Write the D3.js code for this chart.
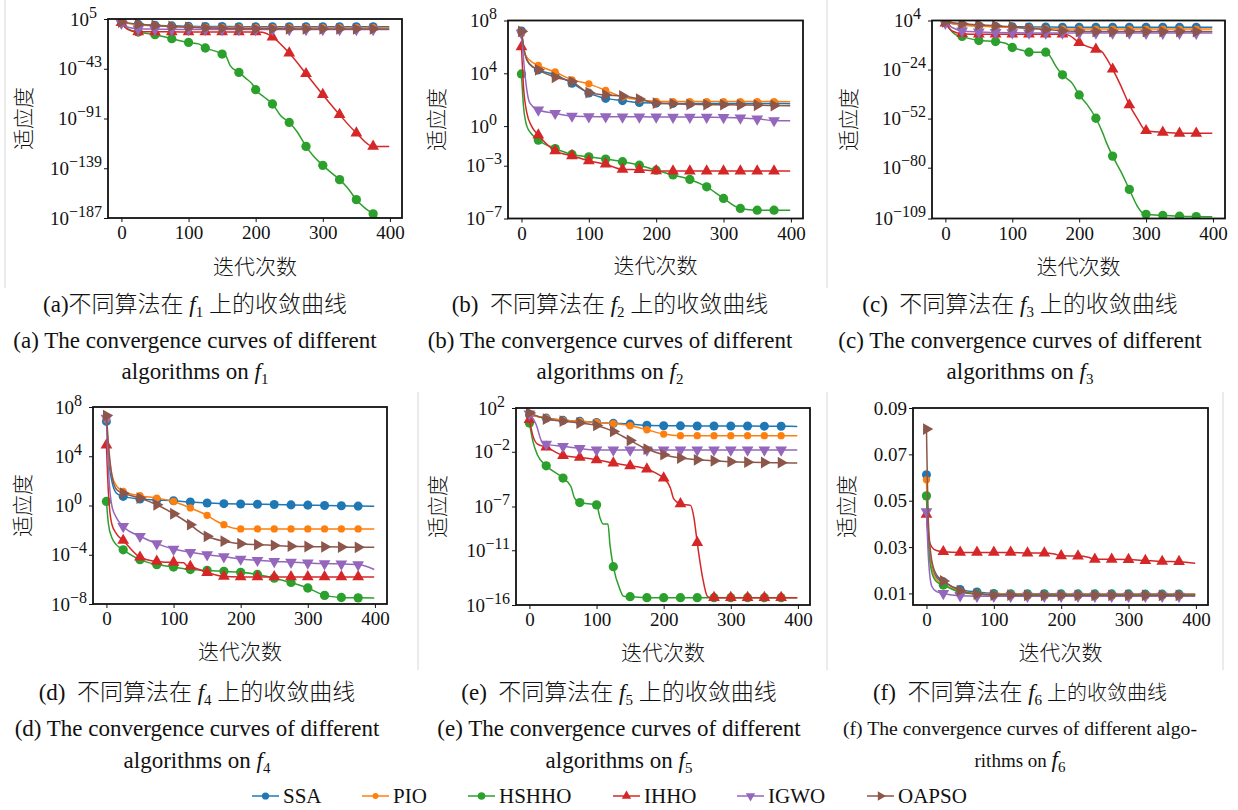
<!DOCTYPE html>
<html>
<head>
<meta charset="utf-8">
<script src="https://cdn.jsdelivr.net/npm/d3@7"></script>
<style>
  body { margin: 0; background: #fff; }
  svg text { font-family: 'Liberation Serif', 'Noto Sans CJK SC', serif; fill: #111; white-space: pre; }
  svg text.zh { font-weight: 300; }
</style>
</head>
<body>
<script>
// algorithms, in drawing order
const algorithms = ['SSA', 'PIO', 'HSHHO', 'IHHO', 'IGWO', 'OAPSO'];
const xTicks = [0, 100, 200, 300, 400];

// f1..f5: [iteration, log10(fitness)]
const f1SSA   = [[0,1.5],[25,0],[50,-1],[75,-1.6],[100,-2],[125,-2.2],[150,-2.3],[175,-2.4],[200,-2.4],[225,-2.4],[250,-2.45],[275,-2.45],[300,-2.45],[325,-2.5],[350,-2.5],[375,-2.5],[399,-2.5]];
const f1PIO   = [[0,1.5],[25,-0.5],[50,-1.5],[75,-2.2],[100,-2.7],[125,-3],[150,-3.2],[175,-3.3],[200,-3.4],[225,-3.4],[250,-3.4],[275,-3.4],[300,-3.4],[325,-3.4],[350,-3.4],[375,-3.4],[399,-3.4]];
const f1HSHHO = [[0,3],[5,-2],[15,-6],[25,-7.6],[50,-10.1],[75,-14],[100,-17.6],[115,-19],[125,-23],[140,-26],[150,-28.8],[155,-30],[162,-40],[175,-46.5],[185,-52],[195,-58],[200,-63.2],[212,-70],[225,-77],[237,-88],[250,-94.8],[262,-104],[275,-117.9],[287,-128],[300,-136.2],[312,-143],[325,-150],[337,-158],[350,-169.3],[362,-177],[375,-183],[399,-200]];
const f1IHHO  = [[0,1.5],[5,-3],[15,-6.5],[25,-7.3],[50,-7.4],[75,-7.4],[100,-7.5],[125,-7.5],[150,-7.5],[175,-7.5],[200,-7.5],[210,-7.8],[225,-12.4],[250,-27.8],[275,-47.8],[300,-68],[325,-87.3],[350,-105],[375,-117.9],[399,-118]];
const f1IGWO  = [[0,1],[10,-3],[25,-4.5],[50,-4.8],[75,-5],[100,-5.1],[125,-5.1],[150,-5.2],[175,-5.2],[200,-5.2],[225,-5.2],[250,-5.2],[275,-5.2],[300,-5.2],[325,-5.2],[350,-5.2],[375,-5.2],[399,-5.2]];
const f1OAPSO = [[0,2],[25,0],[50,-1.2],[75,-2.2],[100,-3],[125,-3.6],[150,-4],[175,-4.3],[200,-4.5],[225,-4.5],[250,-4.5],[275,-4.55],[300,-4.55],[325,-4.6],[350,-4.6],[375,-4.6],[399,-4.6]];

const f2SSA   = [[0,7.2],[5,5.5],[12,4.7],[25,4.26],[50,3.9],[75,3.25],[100,2.5],[125,2.1],[150,1.93],[175,1.78],[200,1.74],[225,1.72],[250,1.72],[275,1.72],[300,1.72],[325,1.72],[350,1.72],[375,1.71],[399,1.7]];
const f2PIO   = [[0,7.0],[5,5.5],[12,5],[25,4.6],[50,4.1],[75,3.5],[100,3.2],[125,2.7],[150,2.2],[175,2.0],[200,1.88],[225,1.86],[250,1.86],[275,1.86],[300,1.86],[325,1.86],[350,1.86],[375,1.86],[399,1.85]];
const f2HSHHO = [[0,3.95],[3,1.5],[8,0],[15,-0.6],[25,-1.06],[50,-1.7],[75,-2.15],[100,-2.33],[125,-2.5],[150,-2.7],[175,-2.96],[200,-3.34],[225,-3.7],[250,-4.04],[275,-4.6],[300,-5.48],[325,-6.24],[350,-6.37],[375,-6.37],[399,-6.38]];
const f2IHHO  = [[0,6.0],[3,3],[8,1],[15,0],[25,-0.68],[50,-1.87],[75,-2.25],[100,-2.63],[125,-2.88],[150,-3.28],[175,-3.3],[200,-3.39],[225,-3.4],[250,-3.4],[275,-3.4],[300,-3.4],[325,-3.4],[350,-3.4],[375,-3.4],[399,-3.4]];
const f2IGWO  = [[0,7.04],[5,4],[12,1.8],[25,1.22],[50,0.97],[75,0.76],[100,0.72],[125,0.71],[150,0.7],[175,0.7],[200,0.69],[225,0.68],[250,0.68],[275,0.67],[300,0.65],[325,0.62],[350,0.55],[375,0.42],[399,0.4]];
const f2OAPSO = [[0,7.17],[5,5.5],[12,4.7],[25,4.26],[50,3.7],[75,3.37],[100,2.53],[125,2.36],[150,2.28],[175,2.05],[200,1.74],[225,1.7],[250,1.65],[275,1.63],[300,1.62],[325,1.6],[350,1.58],[375,1.56],[399,1.55]];

const f3SSA   = [[0,2.9],[25,1.5],[50,1],[75,0.6],[100,0.4],[125,0.35],[150,0.3],[175,0.2],[200,0.2],[225,0.2],[250,0.2],[275,0.2],[300,0.2],[325,0.2],[350,0.2],[375,0.2],[399,0.2]];
const f3PIO   = [[0,3],[25,1.5],[50,0.8],[75,0.3],[100,0],[125,-0.3],[150,-0.6],[175,-0.8],[200,-0.9],[225,-0.9],[250,-0.9],[275,-0.9],[300,-0.9],[325,-0.9],[350,-0.9],[375,-0.9],[399,-0.9]];
const f3HSHHO = [[0,3],[5,0],[15,-4],[25,-5.1],[50,-7.4],[75,-8],[90,-9],[100,-11.4],[115,-13],[125,-14.1],[150,-14.1],[155,-15.5],[165,-22],[175,-27],[190,-32],[200,-38.5],[212,-44],[225,-51.8],[235,-60],[240,-65],[250,-73.4],[262,-82],[275,-92.4],[287,-102],[295,-106],[300,-106.6],[325,-107.3],[350,-107.7],[375,-107.9],[399,-108]];
const f3IHHO  = [[0,2.5],[10,-2],[25,-3.5],[50,-3.8],[75,-3.8],[100,-3.8],[125,-3.8],[150,-3.8],[175,-3.8],[185,-4.5],[200,-8.6],[210,-10.5],[225,-12.4],[233,-13.5],[240,-17],[250,-23.8],[262,-33],[275,-44.2],[287,-52],[300,-58.9],[325,-59.8],[350,-60.4],[375,-60.4],[399,-60.4]];
const f3IGWO  = [[0,2.5],[10,0],[25,-2],[50,-2.5],[75,-2.8],[100,-3],[125,-3.1],[150,-3.1],[175,-3.1],[200,-3.1],[225,-3.15],[250,-3.15],[275,-3.15],[300,-3.2],[325,-3.2],[350,-3.2],[375,-3.2],[399,-3.2]];
const f3OAPSO = [[0,3.2],[25,2.2],[50,1.5],[75,1],[100,0.3],[125,-0.5],[150,-1.2],[175,-1.8],[200,-2.2],[225,-2.3],[250,-2.3],[275,-2.3],[300,-2.3],[325,-2.3],[350,-2.3],[375,-2.3],[399,-2.3]];

const f4SSA   = [[0,6.83],[3,4],[8,2],[15,1],[25,0.74],[50,0.53],[75,0.45],[100,0.39],[125,0.28],[150,0.2],[175,0.15],[200,0.12],[225,0.1],[250,0.08],[275,0.05],[300,0.03],[325,0],[350,-0.02],[375,-0.05],[399,-0.07]];
const f4PIO   = [[0,7],[3,4.5],[8,2.5],[15,1.6],[25,1.14],[50,0.79],[75,0.6],[100,0.33],[125,-0.2],[150,-0.8],[165,-1.3],[175,-1.56],[190,-1.85],[200,-1.9],[225,-1.9],[250,-1.9],[275,-1.9],[300,-1.9],[325,-1.9],[350,-1.9],[375,-1.9],[399,-1.9]];
const f4HSHHO = [[0,0.33],[3,-1.5],[8,-2.6],[15,-3.2],[25,-3.6],[50,-4.4],[75,-4.8],[100,-5],[125,-5.2],[150,-5.27],[175,-5.35],[200,-5.43],[225,-5.6],[250,-5.9],[275,-6.25],[300,-6.7],[325,-7.3],[350,-7.47],[375,-7.5],[399,-7.52]];
const f4IHHO  = [[0,4.9],[3,1],[8,-1.5],[15,-2.3],[25,-2.84],[50,-4.2],[75,-4.54],[100,-4.62],[115,-4.65],[120,-4.9],[125,-4.95],[150,-5.44],[175,-5.76],[200,-5.8],[225,-5.8],[250,-5.8],[275,-5.8],[300,-5.8],[325,-5.8],[350,-5.8],[375,-5.8],[399,-5.8]];
const f4IGWO  = [[0,7.1],[3,3],[8,0],[15,-1],[25,-1.7],[50,-2.5],[75,-3.1],[100,-3.54],[125,-3.8],[150,-4],[175,-4.15],[200,-4.35],[225,-4.45],[250,-4.54],[275,-4.6],[300,-4.67],[325,-4.72],[350,-4.74],[375,-4.8],[390,-5],[399,-5.2]];
const f4OAPSO = [[0,7.3],[3,5],[8,2.5],[15,1.3],[25,1],[50,0.6],[75,0.06],[100,-0.67],[125,-1.56],[135,-2],[150,-2.5],[175,-2.9],[200,-3.1],[225,-3.18],[250,-3.24],[275,-3.3],[300,-3.33],[325,-3.36],[350,-3.38],[375,-3.4],[399,-3.4]];

const f5SSA   = [[0,1.39],[25,1.08],[50,0.87],[75,0.78],[100,0.68],[125,0.6],[150,0.53],[175,0.42],[200,0.38],[225,0.37],[250,0.36],[275,0.36],[300,0.35],[325,0.35],[350,0.34],[375,0.33],[399,0.32]];
const f5PIO   = [[0,1.39],[25,1.08],[50,0.87],[75,0.78],[100,0.68],[125,0.58],[150,0.38],[175,0.01],[200,-0.38],[225,-0.53],[250,-0.53],[275,-0.53],[300,-0.53],[325,-0.53],[350,-0.53],[375,-0.53],[399,-0.53]];
const f5HSHHO = [[0,0.63],[5,-1],[12,-2.3],[25,-3.28],[50,-4.4],[62,-5.2],[67,-6.2],[75,-6.64],[100,-6.85],[105,-8],[110,-8.6],[117,-8.6],[120,-10.5],[125,-12.5],[135,-14.6],[140,-15.2],[150,-15.24],[175,-15.33],[200,-15.33],[225,-15.33],[250,-15.33],[275,-15.33],[300,-15.33],[325,-15.33],[350,-15.33],[375,-15.33],[399,-15.33]];
const f5IHHO  = [[0,0.93],[5,-0.5],[12,-1.3],[25,-1.57],[50,-2.34],[75,-2.52],[100,-2.73],[125,-3.03],[150,-3.28],[175,-3.58],[190,-4],[200,-4.4],[210,-5.3],[215,-6.3],[225,-6.76],[240,-6.9],[245,-8],[250,-10.3],[258,-13.5],[265,-15.2],[270,-15.33],[275,-15.33],[300,-15.33],[325,-15.33],[350,-15.33],[375,-15.33],[399,-15.33]];
const f5IGWO  = [[0,1.45],[10,0.5],[18,-1],[25,-1.3],[50,-1.5],[75,-1.7],[100,-1.83],[125,-1.83],[150,-1.83],[175,-1.83],[200,-1.83],[225,-1.83],[250,-1.83],[275,-1.83],[300,-1.83],[325,-1.83],[350,-1.83],[375,-1.83],[399,-1.83]];
const f5OAPSO = [[0,1.55],[25,0.99],[50,0.8],[75,0.63],[100,0.41],[125,-0.14],[150,-0.96],[175,-1.75],[200,-2.27],[225,-2.57],[250,-2.73],[275,-2.82],[300,-2.9],[325,-2.95],[350,-2.98],[375,-3],[399,-3.02]];

// f6: [iteration, fitness] (linear axis)
const f6SSA   = [[0,0.0612],[3,0.035],[8,0.022],[15,0.017],[25,0.015],[50,0.0117],[75,0.0106],[100,0.01],[125,0.0099],[150,0.0099],[175,0.0099],[200,0.0098],[225,0.0098],[250,0.0098],[275,0.0098],[300,0.0098],[325,0.0097],[350,0.0097],[375,0.0097],[399,0.0097]];
const f6PIO   = [[0,0.059],[3,0.034],[8,0.021],[15,0.016],[25,0.014],[50,0.011],[75,0.01],[100,0.0097],[125,0.0097],[150,0.0097],[175,0.0096],[200,0.0096],[225,0.0096],[250,0.0096],[275,0.0096],[300,0.0096],[325,0.0096],[350,0.0096],[375,0.0096],[399,0.0096]];
const f6HSHHO = [[0,0.0521],[3,0.03],[8,0.019],[15,0.015],[25,0.0136],[50,0.0105],[75,0.0097],[100,0.0094],[125,0.0094],[150,0.0093],[175,0.0093],[200,0.0093],[225,0.0093],[250,0.0093],[275,0.0093],[300,0.0093],[325,0.0093],[350,0.0093],[375,0.0093],[399,0.0093]];
const f6IHHO  = [[0,0.0441],[3,0.034],[8,0.03],[15,0.0285],[25,0.028],[50,0.0277],[75,0.0277],[100,0.0277],[125,0.0277],[150,0.0274],[175,0.0274],[190,0.027],[200,0.0262],[225,0.0261],[240,0.0256],[250,0.0247],[275,0.0247],[300,0.0246],[325,0.0242],[350,0.0238],[375,0.0237],[399,0.023]];
const f6IGWO  = [[0,0.0453],[3,0.025],[8,0.013],[15,0.0108],[25,0.01],[50,0.009],[75,0.0088],[100,0.0088],[125,0.0088],[150,0.0088],[175,0.0088],[200,0.0088],[225,0.0088],[250,0.0088],[275,0.0088],[300,0.0088],[325,0.0088],[350,0.0088],[375,0.0088],[399,0.0088]];
const f6OAPSO = [[0,0.0809],[3,0.04],[8,0.024],[15,0.018],[25,0.0154],[50,0.0112],[75,0.0097],[100,0.0093],[125,0.0093],[150,0.0092],[175,0.0092],[200,0.0092],[225,0.0092],[250,0.0092],[275,0.0092],[300,0.0092],[325,0.0092],[350,0.0092],[375,0.0092],[399,0.0092]];

// y ticks per function (exponents for log panels)
const f1Ticks = [5, -43, -91, -139, -187];
const f2Ticks = [8, 4, 0, -3, -7];
const f3Ticks = [4, -24, -52, -80, -109];
const f4Ticks = [8, 4, 0, -4, -8];
const f5Ticks = [2, -2, -7, -11, -16];
const f6Ticks = [0.01, 0.03, 0.05, 0.07, 0.09];

const colors = ['#1f77b4', '#ff7f0e', '#2ca02c', '#d62728', '#9467bd', '#8c564b'];

const width = 1238, height = 810;
const svg = d3.select('body').append('svg')
  .attr('width', width).attr('height', height)
  .attr('viewBox', `0 0 ${width} ${height}`);

// light scan borders
[[5, 0, 288], [827, 0, 288], [418, 392, 670], [827, 392, 670], [1223, 392, 670]].forEach(([x, y0, y1]) => {
  svg.append('line').attr('x1', x).attr('x2', x).attr('y1', y0).attr('y2', y1)
    .attr('stroke', '#d8d8d8').attr('stroke-width', 1);
});

const markerFor = i => {
  const sym = d3.symbol();
  if (i === 0) return { path: sym.type(d3.symbolCircle).size(64)(), rot: 0 };
  if (i === 1) return { path: sym.type(d3.symbolCircle).size(42)(), rot: 0 };
  if (i === 2) return { path: sym.type(d3.symbolCircle).size(68)(), rot: 0 };
  if (i === 3) return { path: sym.type(d3.symbolTriangle).size(60)(), rot: 0 };
  if (i === 4) return { path: sym.type(d3.symbolTriangle).size(60)(), rot: 180 };
  return { path: sym.type(d3.symbolTriangle).size(60)(), rot: 90 };
};

const panels = [
  { key: 'a', n: 1, series: [f1SSA, f1PIO, f1HSHHO, f1IHHO, f1IGWO, f1OAPSO], log: true, yDom: [-187, 5], ticks: f1Ticks,
    x: 108, y: 19, w: 294, h: 199, yLab: 24, xLab: 267, cap: 195, row: 0 },
  { key: 'b', n: 2, series: [f2SSA, f2PIO, f2HSHHO, f2IHHO, f2IGWO, f2OAPSO], log: true, yDom: [-7, 8], ticks: f2Ticks,
    x: 508, y: 20.5, w: 295, h: 198, yLab: 437, xLab: 266, cap: 610, row: 0 },
  { key: 'c', n: 3, series: [f3SSA, f3PIO, f3HSHHO, f3IHHO, f3IGWO, f3OAPSO], log: true, yDom: [-109, 4], ticks: f3Ticks,
    x: 932, y: 20.5, w: 293, h: 198, yLab: 849, xLab: 267, cap: 1020, row: 0 },
  { key: 'd', n: 4, series: [f4SSA, f4PIO, f4HSHHO, f4IHHO, f4IGWO, f4OAPSO], log: true, yDom: [-8, 8], ticks: f4Ticks,
    x: 93, y: 407, w: 294, h: 197, yLab: 23, xLab: 652, cap: 197, row: 1 },
  { key: 'e', n: 5, series: [f5SSA, f5PIO, f5HSHHO, f5IHHO, f5IGWO, f5OAPSO], log: true, yDom: [-16, 2], ticks: f5Ticks,
    x: 516, y: 408, w: 294, h: 197, yLab: 438, xLab: 653, cap: 619, row: 1 },
  { key: 'f', n: 6, series: [f6SSA, f6PIO, f6HSHHO, f6IHHO, f6IGWO, f6OAPSO], log: false, yDom: [0.005, 0.09], ticks: f6Ticks,
    x: 913, y: 408, w: 295, h: 197, yLab: 847, xLab: 653, cap: 1020, row: 1 }
];

const capRows = [{ zh: 304, en1: 340, en2: 371 }, { zh: 692, en1: 728, en2: 760 }];
const tickFont = 19;
const supFont = 16;
const capFont = 23;

panels.forEach(p => {
  const g = svg.append('g').attr('transform', `translate(${p.x},${p.y})`);
  const xScale = d3.scaleLinear().domain([-20, 418]).range([0, p.w]);
  const yScale = p.log
    ? d3.scaleLog().domain([Math.pow(10, p.yDom[0]), Math.pow(10, p.yDom[1])]).range([p.h, 0])
    : d3.scaleLinear().domain(p.yDom).range([p.h, 0]);
  const yVal = v => p.log ? Math.pow(10, v) : v;

  g.append('clipPath').attr('id', 'clip-' + p.key)
    .append('rect').attr('width', p.w).attr('height', p.h);

  // x axis
  const xAxis = d3.axisBottom(xScale).tickValues(xTicks).tickSize(4).tickSizeOuter(0).tickPadding(4);
  const xg = g.append('g').attr('transform', `translate(0,${p.h})`).call(xAxis);
  xg.select('.domain').remove();
  xg.selectAll('text').attr('font-size', tickFont).attr('fill', '#111');
  xg.selectAll('line').attr('stroke', '#111');

  // y axis
  const yAxis = d3.axisLeft(yScale).tickValues(p.ticks.map(yVal)).tickSize(4).tickSizeOuter(0).tickFormat('');
  const yg = g.append('g').call(yAxis);
  yg.select('.domain').remove();
  yg.selectAll('line').attr('stroke', '#111');
  p.ticks.forEach(t => {
    const ty = yScale(yVal(t));
    const txt = g.append('text').attr('x', -6 - (p.log && t >= 0 ? 5 : 0)).attr('y', ty).attr('dy', '0.35em')
      .attr('text-anchor', 'end').attr('font-size', tickFont);
    if (p.log) {
      txt.append('tspan').text('10');
      txt.append('tspan').attr('dy', -8).attr('font-size', supFont).text(t < 0 ? '\u2212' + (-t) : String(t));
    } else {
      txt.text(d3.format('.2f')(t));
    }
  });

  // series
  const plot = g.append('g').attr('clip-path', `url(#clip-${p.key})`);
  const line = d3.line()
    .x(d => xScale(d[0]))
    .y(d => yScale(yVal(d[1])))
    .curve(d3.curveMonotoneX);
  p.series.forEach((pts, i) => {
    plot.append('path').datum(pts).attr('d', line)
      .attr('fill', 'none').attr('stroke', colors[i]).attr('stroke-width', 1.5);
    const m = markerFor(i);
    plot.selectAll(null).data(pts.filter(d => d[0] % 25 === 0 && d[0] <= 375)).enter()
      .append('path').attr('d', m.path).attr('fill', colors[i])
      .attr('transform', d => `translate(${xScale(d[0])},${yScale(yVal(d[1]))}) rotate(${m.rot})`);
  });

  // frame
  g.append('rect').attr('width', p.w).attr('height', p.h)
    .attr('fill', 'none').attr('stroke', '#111').attr('stroke-width', 1.8);

  // axis titles
  svg.append('text').attr('class', 'zh').attr('transform', `translate(${p.yLab},${p.y + p.h / 2}) rotate(-90)`)
    .attr('text-anchor', 'middle').attr('dy', '0.35em').attr('font-size', 21).text('适应度');
  svg.append('text').attr('class', 'zh').attr('x', p.x + p.w / 2).attr('y', p.xLab).attr('dy', '0.35em')
    .attr('text-anchor', 'middle').attr('font-size', 21).text('迭代次数');

  // captions
  const r = capRows[p.row];
  const small = p.key === 'f';
  const zh = svg.append('text').attr('class', 'zh').attr('x', p.cap).attr('y', r.zh).attr('dy', '0.35em')
    .attr('text-anchor', 'middle').attr('font-size', capFont);
  zh.append('tspan').text(p.key === 'a' ? '(a)不同算法在 ' : `(${p.key})  不同算法在 `);
  zh.append('tspan').attr('font-style', 'italic').text('f');
  zh.append('tspan').attr('dy', 5).attr('font-size', 15).text(p.n);
  zh.append('tspan').attr('dy', -5).attr('font-size', small ? 20 : capFont).text(' 上的收敛曲线');

  const en1 = svg.append('text').attr('x', p.cap).attr('y', r.en1).attr('dy', '0.35em')
    .attr('text-anchor', 'middle').attr('font-size', small ? 19 : capFont)
    .text(small ? `(${p.key}) The convergence curves of different algo-` : `(${p.key}) The convergence curves of different`);
  if (small) en1.attr('textLength', 354).attr('lengthAdjust', 'spacingAndGlyphs');
  const en2 = svg.append('text').attr('x', p.cap).attr('y', r.en2).attr('dy', '0.35em')
    .attr('text-anchor', 'middle').attr('font-size', small ? 19 : capFont);
  en2.append('tspan').text(small ? 'rithms on ' : 'algorithms on ');
  en2.append('tspan').attr('font-style', 'italic').attr('font-size', capFont).text('f');
  en2.append('tspan').attr('dy', 5).attr('font-size', 15).text(p.n);
});

// legend
const legendX = [252, 362, 468, 613, 737, 867];
const legend = svg.append('g').attr('transform', 'translate(0,796)');
algorithms.forEach((name, i) => {
  const lg = legend.append('g').attr('transform', `translate(${legendX[i]},0)`);
  lg.append('line').attr('x1', 0).attr('x2', 27).attr('stroke', colors[i]).attr('stroke-width', 1.5);
  const m = markerFor(i);
  lg.append('path').attr('d', m.path).attr('fill', colors[i])
    .attr('transform', `translate(13.5,0) rotate(${m.rot}) scale(0.8)`);
  lg.append('text').attr('x', 31).attr('dy', '0.35em').attr('font-size', 21).text(name);
});
</script>
</body>
</html>
